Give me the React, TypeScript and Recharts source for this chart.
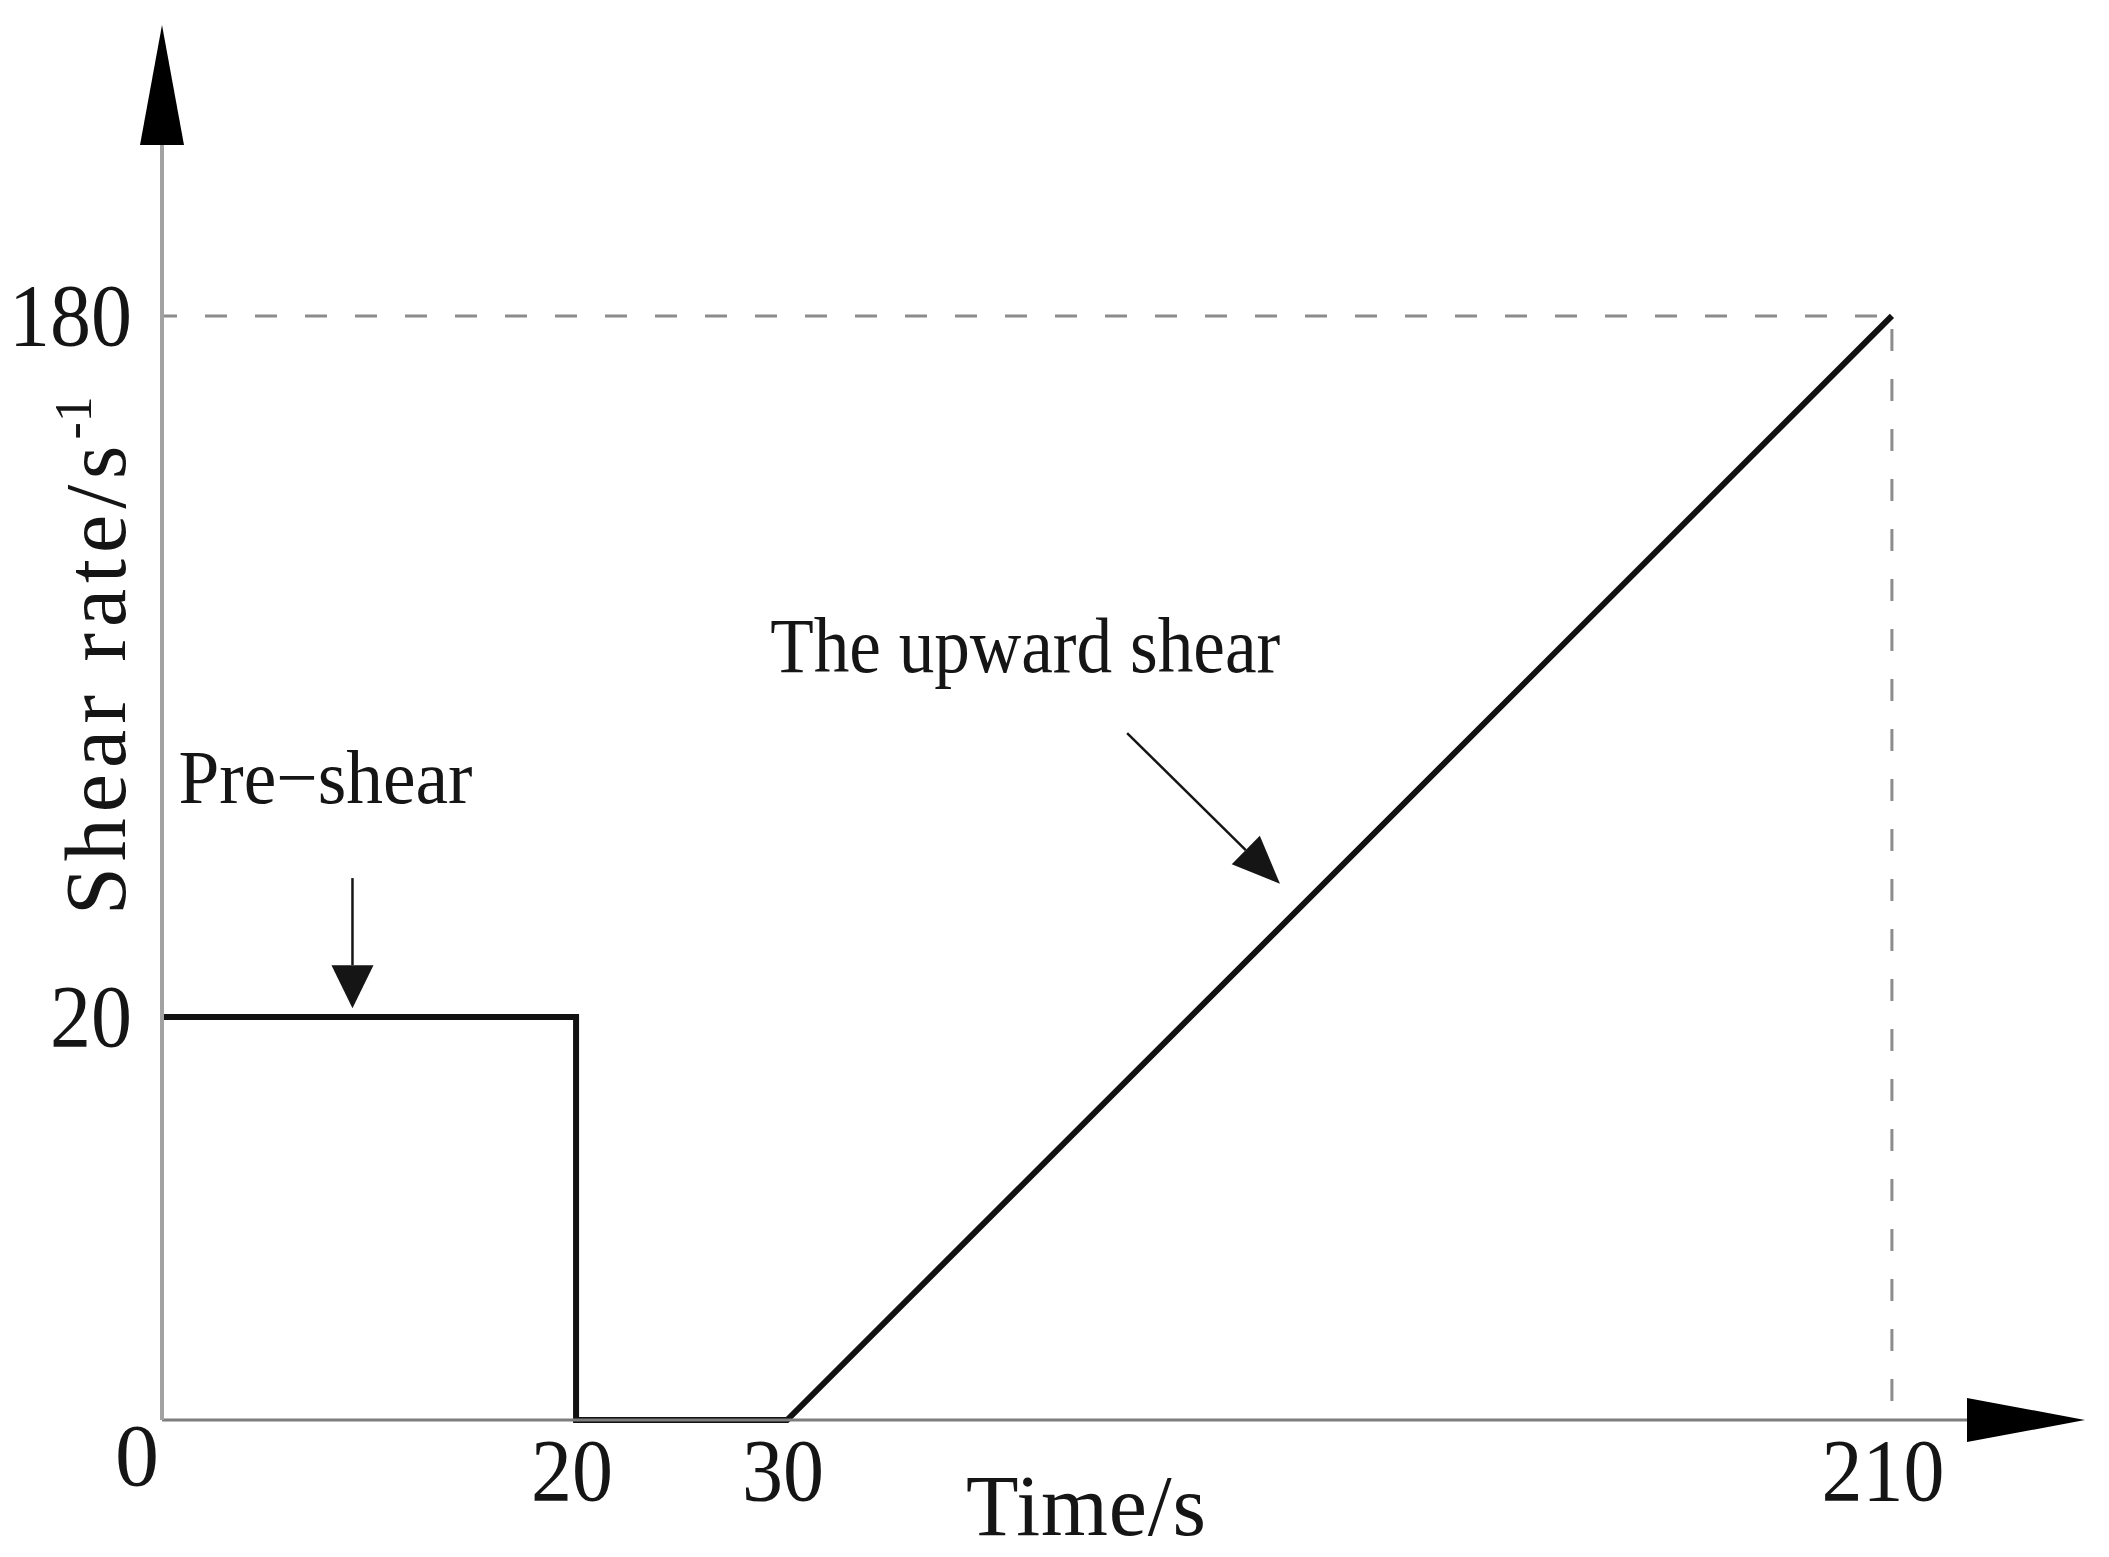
import { Line, LineChart, ReferenceDot, ReferenceLine, XAxis, YAxis } from "recharts";

// shear schedule: pre-shear, rest, then upward ramp
const stepTime = [0, 20, 20, 30, 210];
const stepRate = [20, 20, 0, 0, 180];

// dashed guide lines to the end of the ramp
const guideTime = [0, 210, 210];
const guideRate = [180, 180, 0];

const xTicks = [0, 20, 30, 210];
const yTicks = [20, 180];

// where the axes end (arrow heads)
const timeMax = 225;
const rateMax = 215;

// annotations, in data units
const preShearText = "Pre\u2212shear";
const preShearTextAt = { t: 0.8, r: 68.8 };
const preShearArrow = [
	{ t: 9.2, r: 51.7 },
	{ t: 9.2, r: 22 },
];
const upwardText = "The upward shear";
const upwardTextAt = { t: 29.2, r: 98.7 };
const upwardArrow = [
	{ t: 85.4, r: 84.8 },
	{ t: 110.3, r: 50.4 },
];

// the figure is a sketch, the axes are not to scale: piecewise breaks
const xBreaks = [0, 20, 30, 210, timeMax];
const xBreakPos = [0, 0.2294, 0.3463, 0.9584, 1];
const yBreaks = [0, 20, 180, rateMax];
const yBreakPos = [0, 0.3161, 0.8659, 1];

const FONT = "'Liberation Serif', 'Times New Roman', serif";
const INK = "#151515";

function piecewiseScale(knots: number[], pos: number[]): any {
	let dom = [knots[0], knots[knots.length - 1]];
	let rng = [0, 1];
	const frac = (v: number) => {
		let i = 0;
		while (i < knots.length - 2 && v > knots[i + 1]) i++;
		const a = knots[i];
		const b = knots[i + 1];
		return pos[i] + ((v - a) / (b - a)) * (pos[i + 1] - pos[i]);
	};
	const scale: any = (v: number) => {
		const r0 = rng[0];
		const r1 = rng[rng.length - 1];
		return r0 + frac(v) * (r1 - r0);
	};
	scale.domain = (d?: number[]) => {
		if (d === undefined) return dom.slice();
		dom = d.slice();
		return scale;
	};
	scale.range = (r?: number[]) => {
		if (r === undefined) return rng.slice();
		rng = r.slice();
		return scale;
	};
	scale.copy = () => piecewiseScale(knots, pos).domain(dom).range(rng);
	scale.ticks = () => knots.slice(0, -1);
	scale.tickFormat = () => (v: number) => String(v);
	return scale;
}

const xScale = piecewiseScale(xBreaks, xBreakPos);
const yScale = piecewiseScale(yBreaks, yBreakPos);

const stepData = stepTime.map((t, i) => ({ t, r: stepRate[i] }));
const guideData = guideTime.map((t, i) => ({ t, r: guideRate[i] }));

// tick digits in the source are a narrow serif
const tickText = (x: number, y: number, anchor: string, v: number) => {
	const s = String(v);
	return (
		<text
			x={x}
			y={y}
			textAnchor={anchor}
			fontSize={88}
			fontFamily={FONT}
			fill={INK}
			textLength={s.length > 1 ? s.length * 41 : undefined}
			lengthAdjust="spacingAndGlyphs"
		>
			{s}
		</text>
	);
};

const XTick = (p: any) => {
	const v = p.payload.value;
	if (v === 0) return tickText(p.x - 25, p.y + 65, "middle", v);
	const nudge = v === 210 ? -9 : -4;
	return tickText(p.x + nudge, p.y + 80, "middle", v);
};

const YTick = (p: any) => tickText(p.x - 30, p.y + 29, "end", p.payload.value);

const XTitle = (p: any) => {
	const vb = p.viewBox;
	return (
		<text x={vb.x + 804} y={vb.y + 115} fontSize={86} fontFamily={FONT} fill={INK} textLength={240} lengthAdjust="spacing">
			Time/s
		</text>
	);
};

const YTitle = (p: any) => {
	const vb = p.viewBox;
	const x = vb.x + 125;
	const y = vb.y + 770;
	return (
		<text x={x} y={y} transform={`rotate(-90 ${x} ${y})`} fontSize={86} fontFamily={FONT} fill={INK} letterSpacing={6}>
			Shear rate/s
			<tspan dy={-34} fontSize={52} letterSpacing={0}>
				-1
			</tspan>
		</text>
	);
};

const arrowShape = (headLen: number, headHalf: number, width: number) => (p: any) => {
	const { x1, y1, x2, y2 } = p;
	if (x1 == null || y2 == null) return <g />;
	const dx = x2 - x1;
	const dy = y2 - y1;
	const len = Math.hypot(dx, dy) || 1;
	const ux = dx / len;
	const uy = dy / len;
	const bx = x2 - ux * headLen;
	const by = y2 - uy * headLen;
	const nx = -uy * headHalf;
	const ny = ux * headHalf;
	return (
		<g>
			<line x1={x1} y1={y1} x2={bx} y2={by} stroke={INK} strokeWidth={width} />
			<polygon points={`${x2},${y2} ${bx + nx},${by + ny} ${bx - nx},${by - ny}`} fill={INK} />
		</g>
	);
};

const noteShape = (text: string, size: number, fit: number) => (p: any) => (
	<text x={p.cx} y={p.cy} fontSize={size} fontFamily={FONT} fill={INK} textLength={fit} lengthAdjust="spacingAndGlyphs">
		{text}
	</text>
);

const upHead = (p: any) => (
	<polygon points={`${p.cx},${p.cy - 120} ${p.cx - 22},${p.cy} ${p.cx + 22},${p.cy}`} fill="#000" />
);
const rightHead = (p: any) => (
	<polygon points={`${p.cx + 118},${p.cy} ${p.cx},${p.cy - 22} ${p.cx},${p.cy + 22}`} fill="#000" />
);

export default function App() {
	return (
		<div style={{ position: "absolute", left: 0, top: 0, background: "#fff" }}>
			<LineChart
				width={2109}
				height={1557}
				margin={{ top: 145, right: 142, bottom: 0, left: 0 }}
				style={{ fontFamily: FONT }}
			>
				<XAxis
					type="number"
					dataKey="t"
					domain={[0, timeMax]}
					scale={xScale}
					ticks={xTicks}
					interval={0}
					tickSize={0}
					tickMargin={0}
					tickLine={false}
					axisLine={{ stroke: "#7d7d7d", strokeWidth: 3 }}
					height={137}
					tick={XTick}
					label={XTitle}
				/>
				<YAxis
					type="number"
					domain={[0, rateMax]}
					scale={yScale}
					ticks={yTicks}
					interval={0}
					tickSize={0}
					tickMargin={0}
					tickLine={false}
					axisLine={{ stroke: "#a2a2a2", strokeWidth: 4 }}
					width={162}
					tick={YTick}
					label={YTitle}
				/>
				<Line
					data={guideData}
					dataKey="r"
					type="linear"
					stroke="#8c8c8c"
					strokeWidth={3}
					strokeDasharray="22 28"
					strokeDashoffset={7}
					dot={false}
					activeDot={false}
					isAnimationActive={false}
				/>
				<Line
					data={stepData}
					dataKey="r"
					type="linear"
					stroke="#111"
					strokeWidth={6}
					strokeLinejoin="miter"
					dot={false}
					activeDot={false}
					isAnimationActive={false}
				/>
				<ReferenceLine
					segment={[
						{ x: preShearArrow[0].t, y: preShearArrow[0].r },
						{ x: preShearArrow[1].t, y: preShearArrow[1].r },
					]}
					ifOverflow="visible"
					shape={arrowShape(43, 21, 2.5)}
				/>
				<ReferenceLine
					segment={[
						{ x: upwardArrow[0].t, y: upwardArrow[0].r },
						{ x: upwardArrow[1].t, y: upwardArrow[1].r },
					]}
					ifOverflow="visible"
					shape={arrowShape(48, 20, 2.5)}
				/>
				<ReferenceDot x={preShearTextAt.t} y={preShearTextAt.r} ifOverflow="visible" shape={noteShape(preShearText, 76, 294)} />
				<ReferenceDot x={upwardTextAt.t} y={upwardTextAt.r} ifOverflow="visible" shape={noteShape(upwardText, 78, 510)} />
				<ReferenceDot x={0} y={rateMax} ifOverflow="visible" shape={upHead} />
				<ReferenceDot x={timeMax} y={0} ifOverflow="visible" shape={rightHead} />
			</LineChart>
		</div>
	);
}
